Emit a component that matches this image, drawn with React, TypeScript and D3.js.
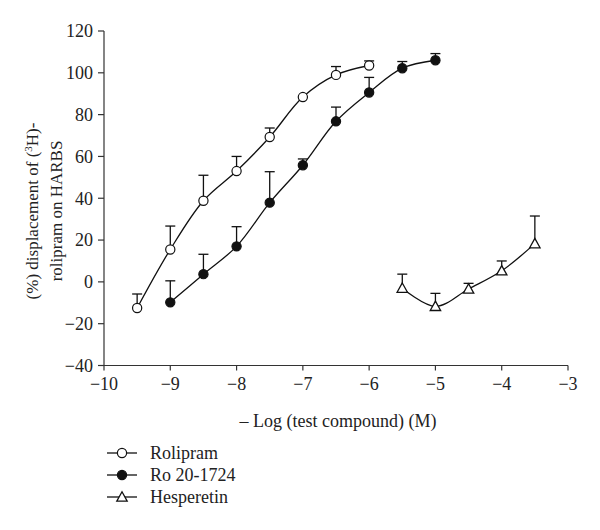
import React from "react";
import * as d3 from "d3";

const rolX = [-9.5, -9, -8.5, -8, -7.5, -7, -6.5, -6];
const rolY = [-12.5, 15.5, 38.8, 53, 69.3, 88.4, 99, 103.5];
const rolErr = [-5.8, 26.7, 51, 60, 73.6, 88.4, 103, 105.7];

const roX = [-9, -8.5, -8, -7.5, -7, -6.5, -6, -5.5, -5];
const roY = [-9.8, 3.7, 17, 37.9, 55.8, 76.8, 90.6, 102.2, 106];
const roErr = [0.5, 13.2, 26.4, 52.7, 58.8, 83.6, 97.8, 105.4, 109.2];

const hesX = [-5.5, -5, -4.5, -4, -3.5];
const hesY = [-3, -11.7, -3.4, 5.3, 18.3];
const hesErr = [3.7, -5.5, -0.7, 10, 31.5];

const xTicks = [-10, -9, -8, -7, -6, -5, -4, -3];
const yTicks = [-40, -20, 0, 20, 40, 60, 80, 100, 120];

const legendNames = ["Rolipram", "Ro 20-1724", "Hesperetin"];

const W = 600;
const H = 530;
const FONT = '"Liberation Serif", "Times New Roman", "DejaVu Serif", "Noto Serif", serif';

export default function App() {
  const x = d3.scaleLinear().domain([-10, -3]).range([104, 568]);
  const y = d3.scaleLinear().domain([-40, 120]).range([365.5, 31]);

  const line = d3
    .line<[number, number]>()
    .x((d) => x(d[0]))
    .y((d) => y(d[1]))
    .curve(d3.curveCatmullRom.alpha(0.5));

  const series = [
    { xs: rolX, ys: rolY, err: rolErr, kind: "open" },
    { xs: roX, ys: roY, err: roErr, kind: "filled" },
    { xs: hesX, ys: hesY, err: hesErr, kind: "tri" },
  ];

  const marker = (kind: string, cx: number, cy: number, key?: any) => {
    if (kind === "tri") {
      const s = 5.2;
      const p = `M${cx},${cy - s} L${cx + s},${cy + s * 0.8} L${cx - s},${cy + s * 0.8} Z`;
      return <path key={key} d={p} fill="#fff" stroke="#111" strokeWidth={1.3} />;
    }
    return (
      <circle
        key={key}
        cx={cx}
        cy={cy}
        r={4.6}
        fill={kind === "filled" ? "#111" : "#fff"}
        stroke="#111"
        strokeWidth={1.2}
      />
    );
  };

  const ts: React.CSSProperties = { fontFamily: FONT, fontSize: 18 };
  const tsY: React.CSSProperties = { fontFamily: FONT, fontSize: 17 };

  return (
    <svg width={W} height={H} style={{ display: "block", position: "absolute", left: 0, top: 0, fontFamily: FONT }}>
      <rect width={W} height={H} fill="#fff" />
      {/* axes */}
      <line x1={x(-10)} x2={x(-10)} y1={y(120)} y2={y(-40)} stroke="#333" strokeWidth={1.2} />
      <line x1={x(-10)} x2={x(-3)} y1={y(-40)} y2={y(-40)} stroke="#333" strokeWidth={1.2} />
      {yTicks.map((t) => (
        <g key={"y" + t}>
          <line x1={x(-10) - 6} x2={x(-10)} y1={y(t)} y2={y(t)} stroke="#333" strokeWidth={1.2} />
          <text x={x(-10) - 11} y={y(t)} dy="0.35em" textAnchor="end" style={ts} fill="#222">
            {t < 0 ? "\u2212" + Math.abs(t) : t}
          </text>
        </g>
      ))}
      {xTicks.map((t) => (
        <g key={"x" + t}>
          <line x1={x(t)} x2={x(t)} y1={y(-40)} y2={y(-40) + 5} stroke="#333" strokeWidth={1.2} />
          <text x={x(t)} y={390} textAnchor="middle" style={ts} fill="#222">
            {"\u2212" + Math.abs(t)}
          </text>
        </g>
      ))}
      <text x={338} y={427} textAnchor="middle" style={ts} fill="#222">
        – Log (test compound) (M)
      </text>
      <g transform="translate(38,211) rotate(-90)">
        <text x={0} y={0} textAnchor="middle" style={tsY} fill="#222">
          (%) displacement of (<tspan style={{ fontSize: 11 }} dy={-6}>3</tspan>
          <tspan dy={6}>H)-</tspan>
        </text>
        <text x={0} y={24} textAnchor="middle" style={tsY} fill="#222">
          rolipram on HARBS
        </text>
      </g>
      {/* series */}
      {series.map((s, i) => {
        const pts = s.xs.map((v, j) => [v, s.ys[j]] as [number, number]);
        return (
          <g key={"s" + i}>
            <path d={line(pts) || ""} fill="none" stroke="#111" strokeWidth={1.3} />
            {s.xs.map((v, j) =>
              s.err[j] > s.ys[j] + 0.5 ? (
                <g key={"e" + j}>
                  <line x1={x(v)} x2={x(v)} y1={y(s.ys[j])} y2={y(s.err[j])} stroke="#111" strokeWidth={1.3} />
                  <line x1={x(v) - 5} x2={x(v) + 5} y1={y(s.err[j])} y2={y(s.err[j])} stroke="#111" strokeWidth={1.3} />
                </g>
              ) : null
            )}
            {s.xs.map((v, j) => marker(s.kind, x(v), y(s.ys[j]), "m" + j))}
          </g>
        );
      })}
      {/* legend */}
      {legendNames.map((n, i) => {
        const ly = 453 + i * 22;
        return (
          <g key={"l" + i}>
            <line x1={107} x2={137} y1={ly} y2={ly} stroke="#111" strokeWidth={1.3} />
            {marker(series[i].kind, 122, ly)}
            <text x={150} y={ly} dy="0.35em" style={ts} fill="#222">
              {n}
            </text>
          </g>
        );
      })}
    </svg>
  );
}
